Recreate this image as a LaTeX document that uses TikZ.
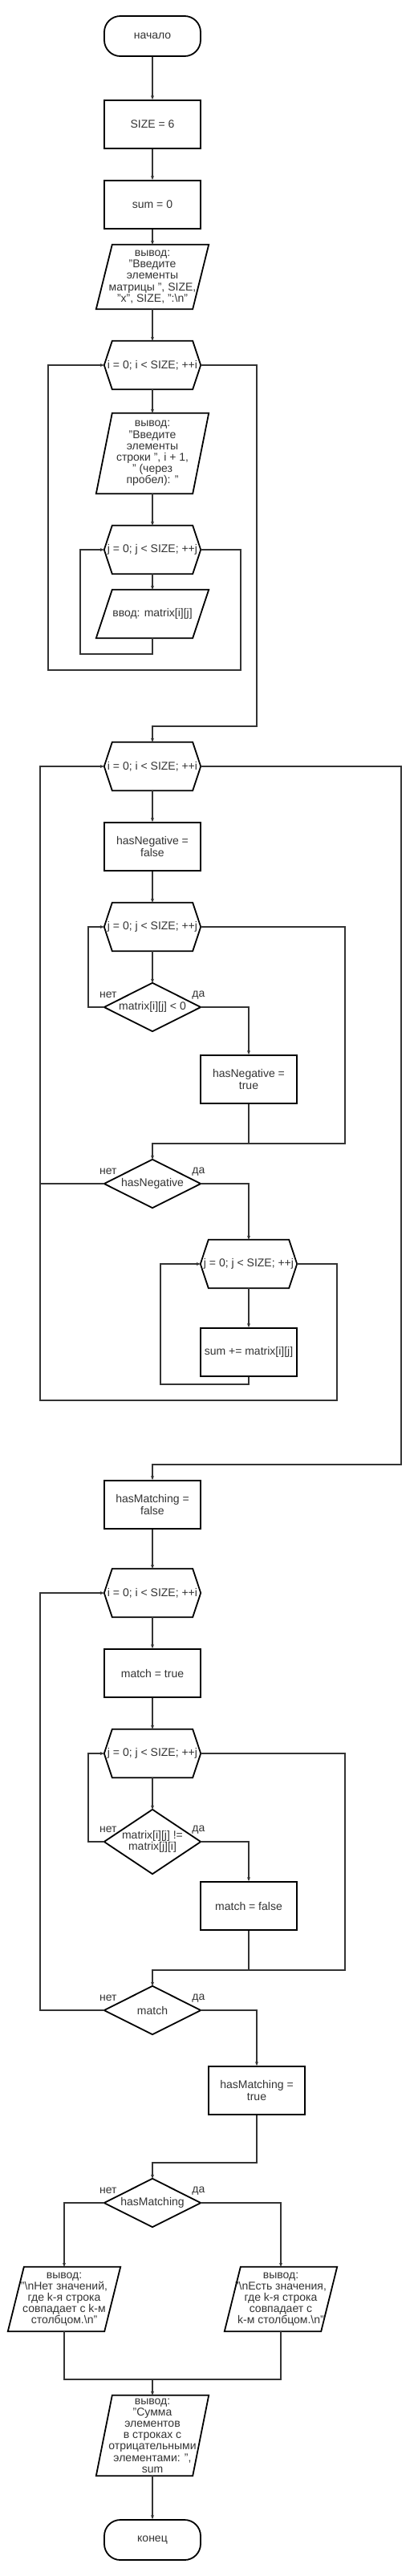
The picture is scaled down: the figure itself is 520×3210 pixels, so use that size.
\documentclass[tikz,border=0pt]{standalone}
\usepackage{fontspec}
\setmainfont{Liberation Sans}
\usetikzlibrary{arrows.meta}
\definecolor{txt}{HTML}{333333}
\definecolor{ln}{HTML}{333333}
\newcommand\drawhex[1]{\draw[shp] (#1.west) -- ([xshift=10pt]#1.north west) -- ([xshift=-10pt]#1.north east) -- (#1.east) -- ([xshift=-10pt]#1.south east) -- ([xshift=10pt]#1.south west) -- cycle;}
\newcommand\drawpara[1]{\draw[shp] ([xshift=-10pt]#1.south west) -- ([xshift=10pt]#1.north west) -- ([xshift=10pt]#1.north east) -- ([xshift=-10pt]#1.south east) -- cycle;}
\newcommand\drawdia[1]{\draw[shp] (#1.west) -- (#1.north) -- (#1.east) -- (#1.south) -- cycle;}
\begin{document}
\begin{tikzpicture}[x=1pt,y=-1pt,
  every node/.style={font=\fontsize{14}{14.2}\selectfont, text=txt, align=center, inner sep=0pt},
  shp/.style={draw=black, line width=1.8pt, line join=miter},
  boxnode/.style={shp, rectangle, minimum width=120pt, minimum height=60pt},
  term/.style={shp, rectangle, rounded corners=20pt, minimum width=120pt, minimum height=50pt},
  plain/.style={rectangle, minimum width=120pt, minimum height=60pt},
  conn/.style={draw=ln, line width=1.2pt},
  arr/.style={conn, -{Stealth[length=5pt,width=4pt]}},
  lbl/.style={}
]
\path[fill=white] (0,0) rectangle (520,3210);

% nodes
\node[term] (start) at (190,45) {начало};
\node[boxnode] (size) at (190,155) {SIZE = 6};
\node[boxnode] (sum0) at (190,255) {sum = 0};
\node[plain, minimum height=80pt] (out1) at (190,345) {вывод:\\"Введите\\элементы\\матрицы ", SIZE,\\"x", SIZE, ":\textbackslash n"};
\drawpara{out1}
\node[plain] (hexI1) at (190,455) {i = 0; i < SIZE; ++i};
\drawhex{hexI1}
\node[plain, minimum height=100pt] (out2) at (190,565) {вывод:\\"Введите\\элементы\\строки ", i + 1,\\" (через\\пробел): "};
\drawpara{out2}
\node[plain] (hexJ1) at (190,685) {j = 0; j < SIZE; ++j};
\drawhex{hexJ1}
\node[plain] (in1) at (190,765) {ввод: matrix[i][j]};
\drawpara{in1}

\node[plain] (hexI2) at (190,955) {i = 0; i < SIZE; ++i};
\drawhex{hexI2}
\node[boxnode] (hnf) at (190,1055) {hasNegative =\\false};
\node[plain] (hexJ2) at (190,1155) {j = 0; j < SIZE; ++j};
\drawhex{hexJ2}
\node[plain] (dia1) at (190,1255) {matrix[i][j] < 0};
\drawdia{dia1}
\node[boxnode] (hnt) at (310,1345) {hasNegative =\\true};
\node[plain] (dia2) at (190,1475) {hasNegative};
\drawdia{dia2}
\node[plain] (hexJ3) at (310,1575) {j = 0; j < SIZE; ++j};
\drawhex{hexJ3}
\node[boxnode] (sumadd) at (310,1685) {sum += matrix[i][j]};

\node[boxnode] (hmf) at (190,1875) {hasMatching =\\false};
\node[plain] (hexI3) at (190,1985) {i = 0; i < SIZE; ++i};
\drawhex{hexI3}
\node[boxnode] (mt) at (190,2085) {match = true};
\node[plain] (hexJ4) at (190,2185) {j = 0; j < SIZE; ++j};
\drawhex{hexJ4}
\node[plain, minimum height=80pt] (dia3) at (190,2295) {matrix[i][j] !=\\matrix[j][i]};
\drawdia{dia3}
\node[boxnode] (mf) at (310,2375) {match = false};
\node[plain] (dia4) at (190,2505) {match};
\drawdia{dia4}
\node[boxnode] (hmt) at (320,2605) {hasMatching =\\true};
\node[plain] (dia5) at (190,2745) {hasMatching};
\drawdia{dia5}
\node[plain, minimum height=80pt] (outL) at (80,2865) {вывод:\\"\textbackslash nНет значений,\\где k-я строка\\совпадает с k-м\\столбцом.\textbackslash n"};
\drawpara{outL}
\node[plain, minimum height=80pt] (outR) at (350,2865) {вывод:\\"\textbackslash nЕсть значения,\\где k-я строка\\совпадает с\\k-м столбцом.\textbackslash n"};
\drawpara{outR}
\node[plain, minimum height=100pt] (outS) at (190,3035) {вывод:\\"Сумма\\элементов\\в строках с\\отрицательными\\элементами: ",\\sum};
\drawpara{outS}
\node[term] (fin) at (190,3165) {конец};

% labels
\foreach \d in {dia1,dia2,dia3,dia4,dia5}{
  \node[anchor=east] at ([xshift=16pt,yshift=15pt]\d.west) {нет};
  \node[anchor=west] at ([xshift=-11pt,yshift=15pt]\d.east) {да};
}

% helper coordinates
\coordinate (m1) at (310,1425);
\coordinate (m2) at (310,2455);
\coordinate (m5) at (190,2965);

% connectors: part 1
\draw[arr] (start.south) -- (size.north);
\draw[arr] (size.south) -- (sum0.north);
\draw[arr] (sum0.south) -- (out1.north);
\draw[arr] (out1.south) -- (hexI1.north);
\draw[arr] (hexI1.south) -- (out2.north);
\draw[arr] (out2.south) -- (hexJ1.north);
\draw[arr] (hexJ1.south) -- (in1.north);
\draw[arr] (in1.south) -- (190,815) -- (100,815) |- (hexJ1.west);
\draw[arr] (hexJ1.east) -- (300,685) -- (300,835) -- (60,835) |- (hexI1.west);
\draw[arr] (hexI1.east) -- (320,455) -- (320,905) -| (hexI2.north);

% part 2
\draw[arr] (hexI2.south) -- (hnf.north);
\draw[arr] (hnf.south) -- (hexJ2.north);
\draw[arr] (hexJ2.south) -- (dia1.north);
\draw[arr] (dia1.west) -- (110,1255) |- (hexJ2.west);
\draw[arr] (dia1.east) -| (hnt.north);
\draw[arr] (hnt.south) -- (m1) -| (dia2.north);
\draw[conn] (hexJ2.east) -| (430,1425) -- (m1);
\draw[conn] (dia2.west) -- (50,1475);
\draw[arr] (dia2.east) -| (hexJ3.north);
\draw[arr] (hexJ3.south) -- (sumadd.north);
\draw[arr] (sumadd.south) -- (310,1725) -- (200,1725) |- (hexJ3.west);
\draw[arr] (hexJ3.east) -- (420,1575) -- (420,1745) -- (50,1745) |- (hexI2.west);
\draw[arr] (hexI2.east) -- (500,955) -- (500,1825) -| (hmf.north);

% part 3
\draw[arr] (hmf.south) -- (hexI3.north);
\draw[arr] (hexI3.south) -- (mt.north);
\draw[arr] (mt.south) -- (hexJ4.north);
\draw[arr] (hexJ4.south) -- (dia3.north);
\draw[arr] (dia3.west) -- (110,2295) |- (hexJ4.west);
\draw[arr] (dia3.east) -| (mf.north);
\draw[arr] (mf.south) -- (m2) -| (dia4.north);
\draw[conn] (hexJ4.east) -| (430,2455) -- (m2);
\draw[arr] (dia4.west) -- (50,2505) |- (hexI3.west);
\draw[arr] (dia4.east) -| (hmt.north);
\draw[arr] (hmt.south) -- (320,2695) -| (dia5.north);
\draw[arr] (dia5.west) -| (outL.north);
\draw[arr] (dia5.east) -| (outR.north);
\draw[conn] (outL.south) -- (80,2965) -- (350,2965) -- (outR.south);
\draw[arr] (m5) -- (outS.north);
\draw[arr] (outS.south) -- (fin.north);
\end{tikzpicture}
\end{document}
